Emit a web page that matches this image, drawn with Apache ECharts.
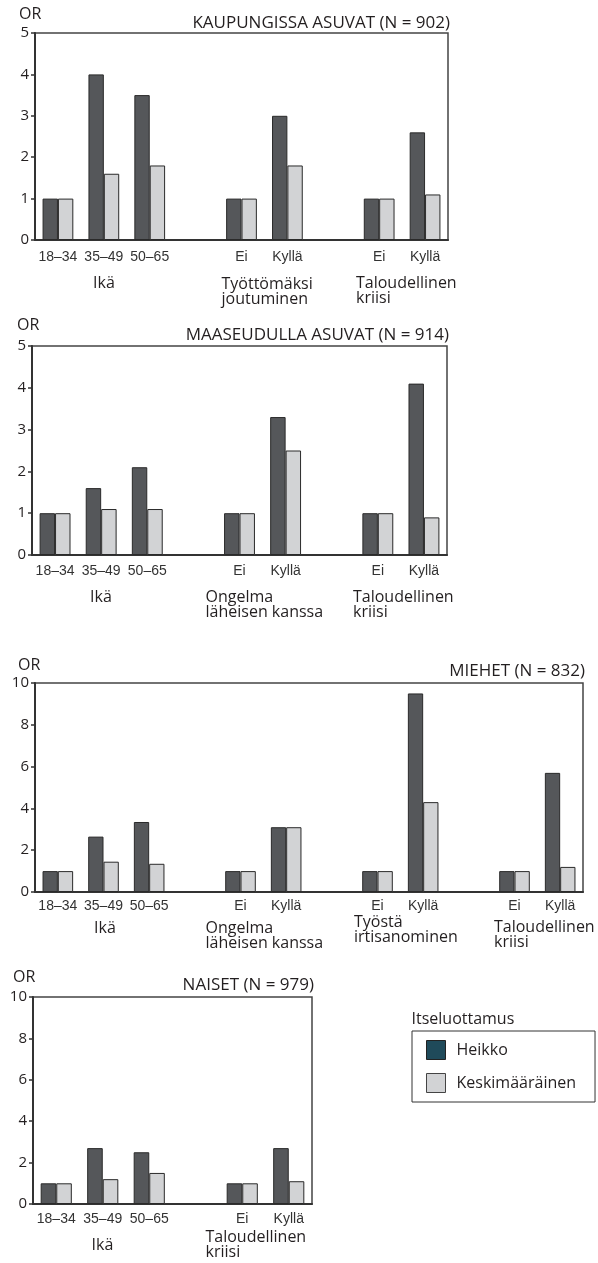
<!DOCTYPE html>
<html>
<head>
<meta charset="utf-8">
<script src="https://cdn.jsdelivr.net/npm/echarts@6/dist/echarts.min.js"></script>
<style>
  html, body { margin: 0; padding: 0; background: #fff; }
  #chart { width: 598px; height: 1263px; }
</style>
</head>
<body>
<div id="chart"></div>
<script>
// ---- data: odds ratios by self-esteem level ----
const seriesNames = ['Heikko', 'Keskimääräinen'];

const catsCity = ['18–34', '35–49', '50–65', '', 'Ei', 'Kyllä', '', 'Ei', 'Kyllä'];
const heikkoCity = [1, 4.0, 3.5, null, 1, 3.0, null, 1, 2.6];
const keskiCity  = [1, 1.6, 1.8, null, 1, 1.8, null, 1, 1.1];
const groupsCity = ['Ikä', 'Työttömäksi\njoutuminen', 'Taloudellinen\nkriisi'];

const catsRural = ['18–34', '35–49', '50–65', '', 'Ei', 'Kyllä', '', 'Ei', 'Kyllä'];
const heikkoRural = [1, 1.6, 2.1, null, 1, 3.3, null, 1, 4.1];
const keskiRural  = [1, 1.1, 1.1, null, 1, 2.5, null, 1, 0.9];
const groupsRural = ['Ikä', 'Ongelma\nläheisen kanssa', 'Taloudellinen\nkriisi'];

const catsMen = ['18–34', '35–49', '50–65', '', 'Ei', 'Kyllä', '', 'Ei', 'Kyllä', '', 'Ei', 'Kyllä'];
const heikkoMen = [1, 2.65, 3.35, null, 1, 3.1, null, 1, 9.5, null, 1, 5.7];
const keskiMen  = [1, 1.45, 1.35, null, 1, 3.1, null, 1, 4.3, null, 1, 1.2];
const groupsMen = ['Ikä', 'Ongelma\nläheisen kanssa', 'Työstä\nirtisanominen', 'Taloudellinen\nkriisi'];

const catsWomen = ['18–34', '35–49', '50–65', '', 'Ei', 'Kyllä'];
const heikkoWomen = [1, 2.7, 2.5, null, 1, 2.7];
const keskiWomen  = [1, 1.2, 1.5, null, 1, 1.1];
const groupsWomen = ['Ikä', 'Taloudellinen\nkriisi'];

const yTicksSmall = [0, 1, 2, 3, 4, 5];
const yTicksLarge = [0, 2, 4, 6, 8, 10];

const panelTitles = ['KAUPUNGISSA ASUVAT (N = 902)', 'MAASEUDULLA ASUVAT (N = 914)',
                     'MIEHET (N = 832)', 'NAISET (N = 979)'];
const yName = 'OR';
const legendTitle = 'Itseluottamus';

// ---- styling and layout ----
const FONT = '"Open Sans", "Noto Sans", sans-serif';
const TICKFONT = '"Liberation Sans", Arial, sans-serif';
const INK = '#231f20';
const DARK = '#55575a';
const LIGHT = '#d2d3d5';
const EDGE = '#2a2a2a';
const LEGEND_DARK = '#1f4a5a';

const panels = [
  { cats: catsCity, h: heikkoCity, k: keskiCity, ticks: yTicksSmall, groups: groupsCity,
    grid: { left: 35, top: 33, width: 413, height: 207 }, labelMargin: 10,
    titleY: 23, orX: 19, orY: 14,
    groupPos: [[104, 283, 'center'], [221.5, 284, 'left'], [356, 283, 'left']] },
  { cats: catsRural, h: heikkoRural, k: keskiRural, ticks: yTicksSmall, groups: groupsRural,
    grid: { left: 32, top: 346, width: 415, height: 209 }, labelMargin: 9,
    titleY: 335, orX: 17, orY: 325,
    groupPos: [[101, 597, 'center'], [205.5, 597, 'left'], [353, 597, 'left']] },
  { cats: catsMen, h: heikkoMen, k: keskiMen, ticks: yTicksLarge, groups: groupsMen,
    grid: { left: 35, top: 683, width: 548, height: 209 }, labelMargin: 7,
    titleY: 671, orX: 18, orY: 665,
    groupPos: [[105, 928, 'center'], [205.5, 928, 'left'], [354, 922.5, 'left'], [494, 927.5, 'left']] },
  { cats: catsWomen, h: heikkoWomen, k: keskiWomen, ticks: yTicksLarge, groups: groupsWomen,
    grid: { left: 33, top: 997, width: 279, height: 207 }, labelMargin: 8,
    titleY: 985, orX: 13, orY: 977,
    groupPos: [[102.5, 1245, 'center'], [205.5, 1237.5, 'left']] }
];

const grids = [], xAxes = [], yAxes = [], series = [], graphics = [];

panels.forEach((p, i) => {
  grids.push(Object.assign({ show: true, borderColor: '#444', borderWidth: 1.5,
    backgroundColor: 'transparent', containLabel: false }, p.grid));

  xAxes.push({
    type: 'category', gridIndex: i, data: p.cats,
    axisLine: { lineStyle: { color: '#333', width: 2 } },
    axisTick: { show: false },
    axisLabel: { interval: 0, margin: p.labelMargin, color: '#333', fontSize: 14, fontFamily: TICKFONT }
  });

  const t = p.ticks;
  yAxes.push({
    type: 'value', gridIndex: i, min: t[0], max: t[t.length - 1], interval: t[1] - t[0],
    axisLine: { show: true, lineStyle: { color: '#333', width: 2 } },
    axisTick: { show: true, length: 4, lineStyle: { color: '#333', width: 1.5 } },
    axisLabel: { margin: 6, color: INK, fontSize: 15, fontFamily: FONT },
    splitLine: { show: false }
  });

  series.push({
    name: seriesNames[0], type: 'bar', xAxisIndex: i, yAxisIndex: i, data: p.h,
    barGap: '0%', barCategoryGap: '33%',
    itemStyle: { color: DARK, borderColor: EDGE, borderWidth: 1 }
  });
  series.push({
    name: seriesNames[1], type: 'bar', xAxisIndex: i, yAxisIndex: i, data: p.k,
    barGap: '0%', barCategoryGap: '33%',
    itemStyle: { color: LIGHT, borderColor: EDGE, borderWidth: 1 }
  });

  // panel title, right-aligned to the plot frame
  graphics.push({
    type: 'text', x: p.grid.left + p.grid.width + 2, y: p.titleY,
    style: { text: panelTitles[i], fill: INK, font: '17px ' + FONT, textAlign: 'right', textVerticalAlign: 'middle' }
  });
  // y-axis name
  graphics.push({
    type: 'text', x: p.orX, y: p.orY,
    style: { text: yName, fill: INK, font: '16px ' + FONT, textAlign: 'left', textVerticalAlign: 'middle' }
  });
  // group labels under the category ticks
  p.groups.forEach((g, j) => {
    const pos = p.groupPos[j];
    graphics.push({
      type: 'text', x: pos[0], y: pos[1] - 7.5,
      style: { text: g, fill: INK, font: '16px ' + FONT, lineHeight: 15,
               textAlign: pos[2], textVerticalAlign: 'top' }
    });
  });
});

graphics.push({
  type: 'text', x: 411.5, y: 1019.5,
  style: { text: legendTitle, fill: INK, font: '16px ' + FONT, textAlign: 'left', textVerticalAlign: 'middle' }
});

const chart = echarts.init(document.getElementById('chart'), null, { renderer: 'canvas' });
chart.setOption({
  animation: false,
  backgroundColor: '#fff',
  grid: grids,
  xAxis: xAxes,
  yAxis: yAxes,
  series: series,
  legend: {
    orient: 'vertical', left: 412, top: 1031,
    padding: [9, 19, 9, 14], itemGap: 13, itemWidth: 19, itemHeight: 19,
    borderColor: '#333', borderWidth: 1, selectedMode: false, icon: 'rect',
    textStyle: { color: INK, fontSize: 16, fontFamily: FONT, padding: [0, 0, 0, 6] },
    data: [
      { name: seriesNames[0], itemStyle: { color: LEGEND_DARK, borderColor: '#222', borderWidth: 1 } },
      { name: seriesNames[1], itemStyle: { color: LIGHT, borderColor: '#444', borderWidth: 1 } }
    ]
  },
  graphic: graphics
});
</script>
</body>
</html>
